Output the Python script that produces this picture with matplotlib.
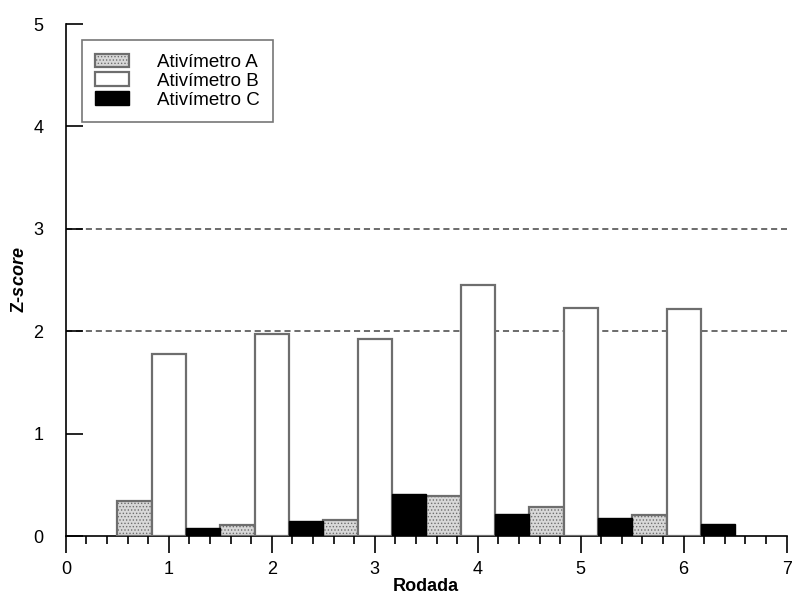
import numpy as np
import matplotlib
matplotlib.use('Agg')
import matplotlib.pyplot as plt
from matplotlib.ticker import MultipleLocator

plt.rcParams['font.family'] = ['Liberation Sans', 'DejaVu Sans']
plt.rcParams['mathtext.fontset'] = 'custom'
plt.rcParams['mathtext.bfit'] = 'Liberation Sans:italic:bold'
plt.rcParams['hatch.color'] = '#7a7a7a'
plt.rcParams['hatch.linewidth'] = 0.6

# data
rodadas = [1, 2, 3, 4, 5, 6]
ativimetro_a = [0.34, 0.11, 0.16, 0.39, 0.28, 0.21]
ativimetro_b = [1.78, 1.97, 1.92, 2.45, 2.23, 2.22]
ativimetro_c = [0.08, 0.15, 0.41, 0.22, 0.18, 0.12]
limites = [2, 3]

fig = plt.figure(figsize=(7.93, 6.01), dpi=100)
ax = fig.add_axes([0.083, 0.108, 0.909, 0.852])

x = np.array(rodadas, dtype=float)
w = 1 / 3
edge = '#6e6e6e'
ax.bar(x - w, ativimetro_a, width=w, facecolor='#d8d8d8', edgecolor=edge,
       hatch='.....', linewidth=1.6, label='Ativímetro A', zorder=3)
ax.bar(x, ativimetro_b, width=w, facecolor='white', edgecolor=edge,
       linewidth=1.6, label='Ativímetro B', zorder=3)
ax.bar(x + w, ativimetro_c, width=w, facecolor='black', edgecolor='black',
       linewidth=1.0, label='Ativímetro C', zorder=3)

for y in limites:
    ax.axhline(y, color='#444444', linestyle=(0, (4, 2.5)), linewidth=1.1, zorder=1)

ax.set_xlim(0, 7)
ax.set_ylim(0, 5)
ax.xaxis.set_major_locator(MultipleLocator(1))
ax.xaxis.set_minor_locator(MultipleLocator(0.2))
ax.yaxis.set_major_locator(MultipleLocator(1))
ax.tick_params(axis='x', which='major', direction='out', length=12, width=1.2,
               labelsize=13, pad=6)
ax.tick_params(axis='x', which='minor', direction='out', length=6, width=1.2)
ax.tick_params(axis='y', which='major', direction='in', length=12, width=1.2,
               labelsize=13, pad=16)
for side in ['top', 'right']:
    ax.spines[side].set_visible(False)
for side in ['left', 'bottom']:
    ax.spines[side].set_linewidth(1.2)

ax.set_xlabel('Rodada', fontsize=13, fontweight='bold', labelpad=0)
ax.set_ylabel('Z-$\\mathbfit{score}$', fontsize=13, fontweight='bold', labelpad=4)

leg = ax.legend(loc='upper left', bbox_to_anchor=(0.022, 0.968), fontsize=13.5,
                frameon=True, fancybox=False, edgecolor='#555555',
                handlelength=1.8, handleheight=0.75, labelspacing=0.08,
                handletextpad=1.5, borderpad=0.7, borderaxespad=0)
leg.get_frame().set_linewidth(1.2)

fig.savefig('out.png', dpi=100, facecolor='white')
